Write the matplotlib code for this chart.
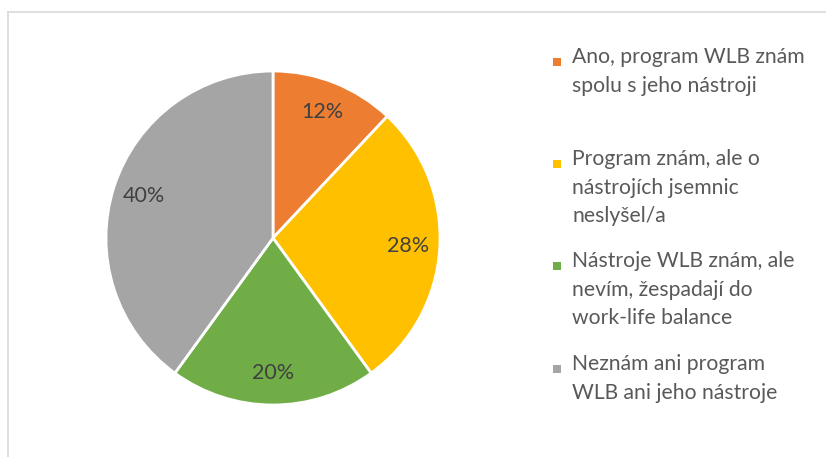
import matplotlib
matplotlib.use("Agg")
import matplotlib.pyplot as plt
from matplotlib.lines import Line2D
from matplotlib.patches import Rectangle

categories = [
    "Ano, program WLB znám\nspolu s jeho nástroji",
    "Program znám, ale o\nnástrojích jsemnic\nneslyšel/a",
    "Nástroje WLB znám, ale\nnevím, žespadají do\nwork-life balance",
    "Neznám ani program\nWLB ani jeho nástroje",
]
values = [12, 28, 20, 40]
colors = ["#ED7D31", "#FFC000", "#70AD47", "#A5A5A5"]

plt.rcParams['font.family'] = ['Lato', 'DejaVu Sans']

W, H = 826, 457
fig = plt.figure(figsize=(W / 100, H / 100), dpi=100)

# chart border
fig.add_artist(Line2D([8 / W, 8 / W], [0, 1 - 12 / H], color="#D9D9D9", lw=1.2,
                      transform=fig.transFigure))
fig.add_artist(Line2D([8 / W, 1], [1 - 12 / H, 1 - 12 / H], color="#D9D9D9", lw=1.2,
                      transform=fig.transFigure))

cx, cy, r = 273, H - 238, 167
L = 1.1
side = 2 * L * r
ax = fig.add_axes([(cx - side / 2) / W, (cy - side / 2) / H, side / W, side / H])
wedges, texts, autotexts = ax.pie(
    values, colors=colors, startangle=90, counterclock=False, radius=1,
    autopct=lambda p: f"{p:.0f}%", pctdistance=0.81,
    wedgeprops=dict(edgecolor="white", linewidth=2),
    textprops=dict(color="#404040", fontsize=15.5),
)
ax.set_xlim(-L, L)
ax.set_ylim(-L, L)
ax.set_aspect("equal")
ax.axis("off")

# legend
first_baselines = [63, 165, 267, 370]
line_step = 28.7
for lab, col, yb in zip(categories, colors, first_baselines):
    fig.add_artist(Rectangle(((553) / W, 1 - 66 / H - (yb - 63) / H), 8 / W, 8 / H,
                             facecolor=col, edgecolor="none", transform=fig.transFigure))
    for i, line in enumerate(lab.split("\n")):
        fig.text(572 / W, 1 - (yb + i * line_step) / H, line, ha="left", va="baseline",
                 fontsize=15.2, color="#595959")

fig.savefig("out.png", dpi=100)
